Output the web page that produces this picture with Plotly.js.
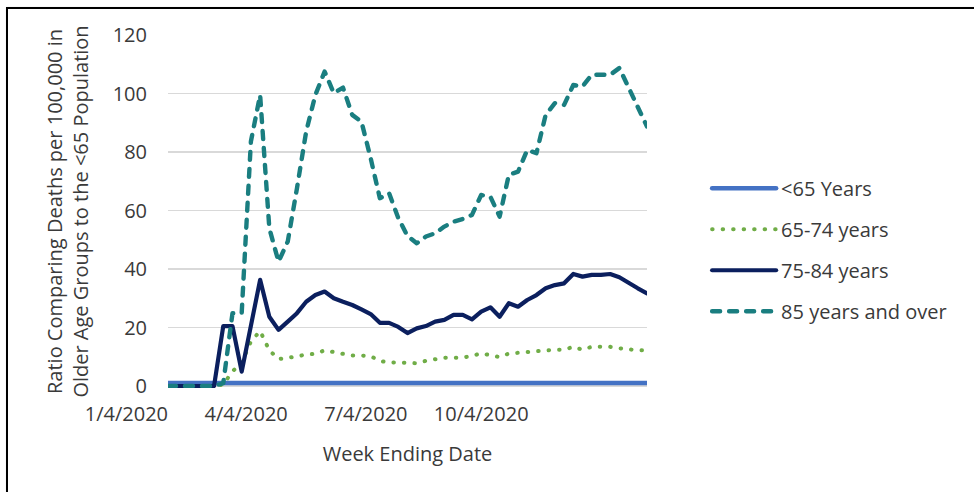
<!DOCTYPE html>
<html>
<head>
<meta charset="utf-8">
<script src="https://cdn.plot.ly/plotly-3.0.1.min.js"></script>
<style>
html,body{margin:0;padding:0;background:#fff;overflow:hidden;width:974px;height:492px;}
#frame{position:absolute;left:6px;top:7px;width:1100px;height:700px;border:2.5px solid #000;box-sizing:border-box;box-shadow:1px 1px 2px rgba(0,0,0,0.35);}
#chart{position:absolute;left:0;top:0;width:974px;height:492px;}
.scatterlayer .js-line, .legend .js-line{stroke-linecap:round;stroke-linejoin:round;}
</style>
</head>
<body>
<div id="frame"></div>
<div id="chart"></div>
<script>
const weekEnding = [
  "2020-01-04","2020-01-11","2020-01-18","2020-01-25","2020-02-01","2020-02-08","2020-02-15","2020-02-22","2020-02-29",
  "2020-03-07","2020-03-14","2020-03-21","2020-03-28","2020-04-04","2020-04-11","2020-04-18","2020-04-25",
  "2020-05-02","2020-05-09","2020-05-16","2020-05-23","2020-05-30","2020-06-06","2020-06-13","2020-06-20","2020-06-27",
  "2020-07-04","2020-07-11","2020-07-18","2020-07-25","2020-08-01","2020-08-08","2020-08-15","2020-08-22","2020-08-29",
  "2020-09-05","2020-09-12","2020-09-19","2020-09-26","2020-10-03","2020-10-10","2020-10-17","2020-10-24","2020-10-31",
  "2020-11-07","2020-11-14","2020-11-21","2020-11-28","2020-12-05","2020-12-12","2020-12-19","2020-12-26","2021-01-02"
];
const under65 = [1,1,1,1,1,1,1,1,1,1,1,1,1,1,1,1,1,1,1,1,1,1,1,1,1,1,1,1,1,1,1,1,1,1,1,1,1,1,1,1,1,1,1,1,1,1,1,1,1,1,1,1,1];
const age65to74 = [0,0,0,0,0,0,0.5,5.0,8.0,15.2,18.8,12.2,9.2,9.5,10.1,10.8,11.0,12.2,11.6,10.8,10.4,10.4,10.2,8.6,8.0,8.0,8.0,7.8,8.6,9.3,9.7,9.7,9.7,10.3,11.2,10.5,9.9,11.1,11.2,11.6,11.9,12.2,12.4,12.4,13.4,12.4,13.4,13.4,13.4,12.9,12.4,12.2,12.2];
const age75to84 = [0,0,0,0,0,0,20.5,20.5,4.9,19.8,36.3,23.7,19.2,22.0,24.9,28.8,31.1,32.3,30.0,28.8,27.7,26.2,24.6,21.6,21.6,20.2,18.1,19.7,20.5,22.0,22.6,24.3,24.3,22.8,25.4,26.9,23.7,28.3,27.1,29.4,31.1,33.4,34.5,35.1,38.3,37.4,38.0,38.0,38.3,37.2,35.1,33.4,31.7];
const age85plus = [0,0,0,0,0,0,1,24.9,24.9,83.6,99.5,53.9,42.5,49.4,67.6,87.0,99.5,107.5,100.1,102.0,92.7,90.4,77.9,64.2,65.9,57.4,51.3,48.8,51.1,52.2,54.5,56.2,57.1,58.5,65.3,64.7,57.9,72.2,73.3,80.7,79.6,92.7,96.7,96.1,102.9,102.4,106.4,106.4,106.4,108.7,101.8,95.0,88.7];

const seriesNames = ["<65 Years", "65-74 years", "75-84 years", "85 years and over"];
const xTickDates = ["2020-01-04", "2020-04-04", "2020-07-04", "2020-10-04"];
const xTickLabels = ["1/4/2020", "4/4/2020", "7/4/2020", "10/4/2020"];
const yTickValues = [0, 20, 40, 60, 80, 100, 120];
const xTitle = "Week Ending Date";
const yTitle = "Ratio Comparing Deaths per 100,000 in<br>Older Age Groups to the <65 Population";

const seriesValues = [under65, age65to74, age75to84, age85plus];
const seriesStyles = [
  {color: "#4472C4", width: 4.5, dash: "solid"},
  {color: "#70AD47", width: 4, dash: "0.5px,10px"},
  {color: "#0B1F5E", width: 4.2, dash: "solid"},
  {color: "#1A7E80", width: 4.4, dash: "8px,9px"}
];

const traces = seriesValues.map((vals, k) => ({
  type: "scatter",
  mode: "lines",
  x: weekEnding,
  y: vals,
  name: seriesNames[k],
  legendgroup: "g" + k,
  line: seriesStyles[k],
  hoverinfo: "skip"
}));

const textColor = "#3a3a3a";
const layout = {
  width: 974,
  height: 492,
  margin: {l: 168, r: 327, t: 35, b: 104, pad: 0},
  paper_bgcolor: "rgba(0,0,0,0)",
  plot_bgcolor: "rgba(0,0,0,0)",
  font: {family: "Open Sans, sans-serif", size: 20, color: textColor},
  showlegend: true,
  legend: {
    xref: "container", yref: "container",
    x: 0.726, y: 0.657, xanchor: "left", yanchor: "top",
    itemwidth: 64, tracegroupgap: 12, traceorder: "grouped",
    bgcolor: "rgba(0,0,0,0)", borderwidth: 0,
    font: {size: 20, color: textColor}
  },
  xaxis: {
    type: "date",
    range: [weekEnding[0], weekEnding[weekEnding.length - 1]],
    tickmode: "array",
    tickvals: xTickDates,
    ticktext: xTickLabels,
    ticklabelposition: "outside left",
    ticks: "", ticklabelstandoff: 12,
    showgrid: false, zeroline: false, showline: false,
    tickfont: {size: 20, color: textColor},
    title: {text: xTitle, standoff: 20, font: {size: 20, color: textColor}}
  },
  yaxis: {
    range: [-0.68, 120],
    tickmode: "array",
    tickvals: yTickValues,
    ticks: "outside", ticklen: 16, tickcolor: "rgba(0,0,0,0)",
    showgrid: true, gridcolor: "#d9d9d9", gridwidth: 1.6,
    zeroline: false, showline: false,
    tickfont: {size: 20, color: textColor},
    title: {text: yTitle, standoff: 18, font: {size: 20, color: textColor}}
  }
};

Plotly.newPlot("chart", traces, layout, {staticPlot: true, displayModeBar: false});
</script>
</body>
</html>
